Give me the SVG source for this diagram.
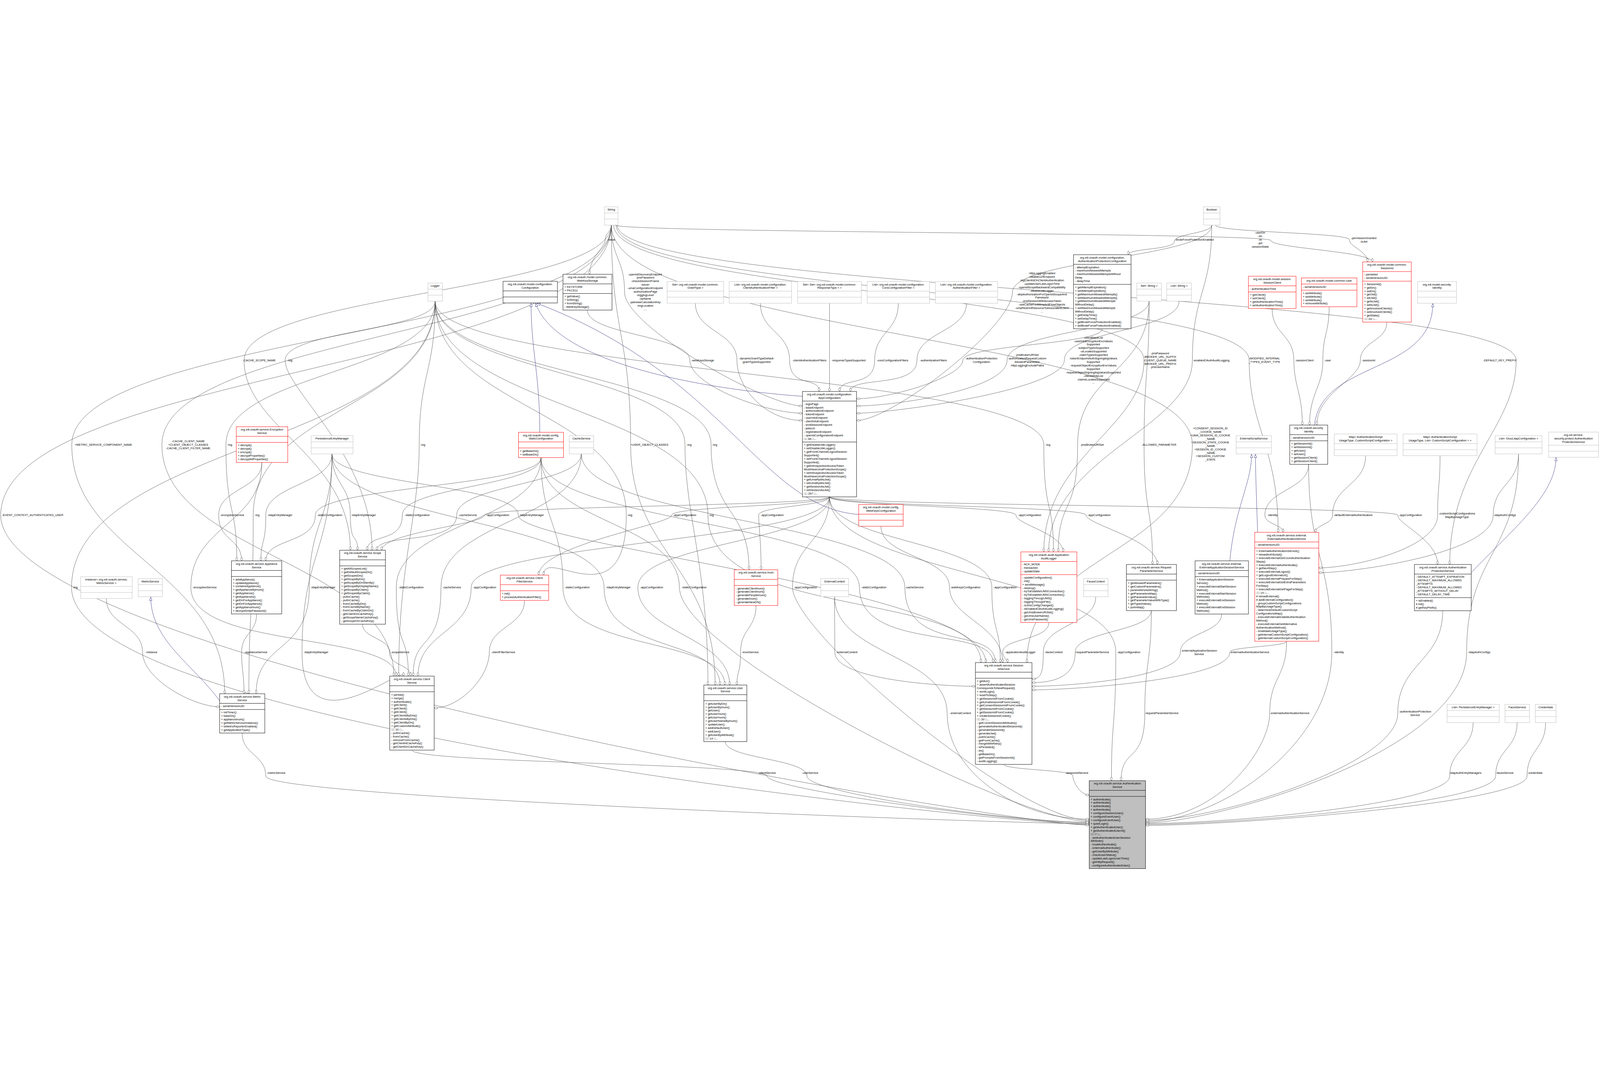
<svg xmlns="http://www.w3.org/2000/svg" width="6622" height="2757" viewBox="0 0 6622 2757" style="max-width:100vw;max-height:100vh">
<style>
.nd rect{fill:#fff;stroke-width:1.5}
.nd path{fill:none;stroke-width:1.5}
.k rect,.k path{stroke:#000}
.g rect,.g path{stroke:#bfbfbf}
.r rect,.r path{stroke:#ff0000}
#n-authsvc rect{fill:#bfbfbf}
text{font-family:"Liberation Sans",Arial,sans-serif;font-size:12px;fill:#000}
.c{text-anchor:middle}
.e{fill:none;stroke:#404040;stroke-width:1.2;marker-end:url(#dia)}
.i{fill:none;stroke:#191970;stroke-width:1.2;marker-end:url(#tri)}
</style>
<defs>
<marker id="dia" viewBox="0 0 16 10" refX="16" refY="5" markerWidth="16" markerHeight="10" markerUnits="userSpaceOnUse" orient="auto"><path d="M0,5 L8,0.5 L16,5 L8,9.5 Z" fill="#fff" stroke="#404040" stroke-width="1.2"/></marker>
<marker id="tri" viewBox="0 0 16 12" refX="15" refY="6" markerWidth="16" markerHeight="12" markerUnits="userSpaceOnUse" orient="auto"><path d="M1,1 L15,6 L1,11 Z" fill="#fff" stroke="#191970" stroke-width="1.2"/></marker>
</defs>
<rect width="6622" height="2757" fill="#fff"/>
<g id="connectors">
<path class="e" d="M2530 81 C2530 112 2505 112 2505 142 S2440 214 2440 285"/>
<path class="e" d="M2530 81 C2530 220 2585 220 2585 360 S3171 830 3321 830"/>
<path class="e" d="M2431 433 C2431 537 2855 537 2855 641 S3171 860 3321 860"/>
<path class="e" d="M2878 405 C2878 523 3050 523 3050 641 S3171 890 3321 890"/>
<path class="e" d="M3147 405 C3147 523 3268 523 3268 641 S3390 705 3390 770"/>
<path class="e" d="M3433 405 L3433 770"/>
<path class="e" d="M3718 405 C3718 523 3620 523 3620 641 S3475 705 3475 770"/>
<path class="e" d="M4000 405 C4000 523 3795 523 3795 641 S3520 705 3520 770"/>
<path class="e" d="M4562 511 C4562 576 3985 576 3985 641 S3695 800 3545 800"/>
<path class="e" d="M4756 396 C4756 518 4168 518 4168 641 S3695 830 3545 830"/>
<path class="e" d="M4880 396 C4880 518 4405 518 4405 640 S3695 860 3545 860"/>
<path class="e" d="M5015 81 C5015 220 4190 220 4190 360 S3695 890 3545 890"/>
<path class="e" d="M5015 81 C5015 116 4860 116 4860 150 S4670 177 4670 204"/>
<path class="e" d="M5030 81 C5030 112 5585 112 5585 142 S5660 188 5660 234"/>
<path class="e" d="M2545 81 C2545 113 5260 113 5260 145 S5680 190 5680 234"/>
<path class="e" d="M2540 81 C2540 360 4735 360 4735 640 S4320 1037 4320 1434"/>
<path class="e" d="M5015 81 C5015 361 4935 361 4935 641 S4340 1037 4340 1434"/>
<path class="e" d="M2550 81 C2550 361 5170 361 5170 641 S5290 997 5290 1353"/>
<path class="e" d="M5265 427 C5265 534 5355 534 5355 641 S5390 775 5390 909"/>
<path class="e" d="M5501 419 C5501 530 5475 530 5475 641 S5420 775 5420 909"/>
<path class="e" d="M5740 483 C5740 562 5630 562 5630 641 S5450 775 5450 909"/>
<path class="e" d="M2555 81 C2555 361 6275 361 6275 641 S6000 1063 6000 1486"/>
<path class="e" d="M1801 396 C1801 518 1180 518 1180 641 S1540 1034 1540 1427"/>
<path class="e" d="M1801 396 C1801 693 935 693 935 990 S980 1230 980 1471"/>
<path class="e" d="M1801 396 C1801 693 1735 693 1735 990 S1650 1469 1650 1948"/>
<path class="e" d="M1801 396 C1801 839 1048 839 1048 1282 S1030 1651 1030 2021"/>
<path class="e" d="M1801 396 C1801 988 296 988 296 1581 S4208 2562 4508 2562"/>
<path class="e" d="M1801 396 C1801 693 2835 693 2835 990 S2930 1487 2930 1985"/>
<path class="e" d="M1801 396 C1801 693 2943 693 2943 990 S3100 1249 3100 1508"/>
<path class="e" d="M1801 396 C1801 839 2592 839 2592 1282 S2250 1406 2250 1530"/>
<path class="e" d="M1801 396 C1801 839 2930 839 2930 1282 S4060 1587 4060 1892"/>
<path class="e" d="M1801 396 C1801 693 4320 693 4320 990 S4360 1212 4360 1434"/>
<path class="e" d="M2530 81 C2530 681 3 681 3 1282 S4208 2565 4508 2565"/>
<path class="e" d="M2530 81 C2530 535 297 535 297 990 S930 1505 930 2021"/>
<path class="e" d="M2530 81 C2530 535 670 535 670 990 S1630 1469 1630 1948"/>
<path class="e" d="M2530 81 C2530 361 1010 361 1010 641 S1450 1034 1450 1427"/>
<path class="e" d="M2530 81 C2530 535 2610 535 2610 990 S2960 1487 2960 1985"/>
<path class="e" d="M2530 81 C2530 535 4935 535 4935 990 S4250 1441 4250 1892"/>
<path class="e" d="M4756 396 C4756 693 4735 693 4735 990 S4770 1238 4770 1486"/>
<path class="e" d="M4756 396 C4756 693 4460 693 4460 990 S4380 1212 4380 1434"/>
<path class="e" d="M1374 1028 C1374 1155 1100 1155 1100 1282 S1080 1376 1080 1471"/>
<path class="e" d="M1374 1028 C1374 1155 1450 1155 1450 1282 S1480 1354 1480 1427"/>
<path class="e" d="M1374 1028 C1374 1304 1280 1304 1280 1581 S1060 1801 1060 2021"/>
<path class="e" d="M1374 1028 C1374 1438 1250 1438 1250 1849 S1670 1898 1670 1948"/>
<path class="e" d="M1374 1028 C1374 1155 2145 1155 2145 1282 S4080 1587 4080 1892"/>
<path class="e" d="M1374 1028 C1374 1304 2500 1304 2500 1581 S2980 1783 2980 1985"/>
<path class="e" d="M2239 1044 C2239 1163 1305 1163 1305 1282 S1100 1376 1100 1471"/>
<path class="e" d="M2239 1044 C2239 1163 1665 1163 1665 1282 S1520 1354 1520 1427"/>
<path class="e" d="M2239 1044 C2239 1312 1640 1312 1640 1581 S1690 1764 1690 1948"/>
<path class="e" d="M2239 1044 C2239 1312 2330 1312 2330 1581 S3000 1783 3000 1985"/>
<path class="e" d="M2239 1044 C2239 1312 2812 1312 2812 1581 S4208 2550 4508 2550"/>
<path class="e" d="M2239 1044 C2239 1312 3557 1312 3557 1581 S4110 1736 4110 1892"/>
<path class="e" d="M2406 1028 C2406 1155 1890 1155 1890 1282 S1560 1354 1560 1427"/>
<path class="e" d="M2406 1028 C2406 1304 1825 1304 1825 1581 S1710 1764 1710 1948"/>
<path class="e" d="M2406 1028 C2406 1304 3745 1304 3745 1581 S4120 1736 4120 1892"/>
<path class="e" d="M3433 1206 C3433 1244 2005 1244 2005 1282 S1580 1354 1580 1427"/>
<path class="e" d="M3433 1206 C3433 1393 1950 1393 1950 1581 S1730 1764 1730 1948"/>
<path class="e" d="M3433 1206 C3433 1244 2780 1244 2780 1282 S2230 1406 2230 1530"/>
<path class="e" d="M3433 1206 C3433 1244 3140 1244 3140 1282 S3150 1395 3150 1508"/>
<path class="e" d="M3433 1206 C3433 1393 2640 1393 2640 1581 S3020 1783 3020 1985"/>
<path class="e" d="M3433 1206 C3433 1393 3280 1393 3280 1581 S4208 2545 4508 2545"/>
<path class="e" d="M3433 1206 C3433 1393 4105 1393 4105 1581 S4140 1736 4140 1892"/>
<path class="e" d="M3433 1206 C3433 1244 4205 1244 4205 1282 S4400 1358 4400 1434"/>
<path class="e" d="M3433 1206 C3433 1244 4495 1244 4495 1282 S4790 1384 4790 1486"/>
<path class="e" d="M3433 1206 C3433 1244 5785 1244 5785 1282 S5950 1384 5950 1486"/>
<path class="e" d="M3433 1206 C3433 1527 4618 1527 4618 1849 S4600 2115 4600 2381"/>
<path class="e" d="M3646 1328 C3646 1454 3930 1454 3930 1581 S4150 1736 4150 1892"/>
<path class="e" d="M3454 1619 C3454 1734 3455 1734 3455 1849 S3900 1990 4037 1990"/>
<path class="e" d="M3454 1619 C3454 1860 3920 1860 3920 2102 S4208 2540 4508 2540"/>
<path class="e" d="M3129 1656 C3129 1752 3065 1752 3065 1849 S3050 1917 3050 1985"/>
<path class="e" d="M1084 1064 C1084 1173 905 1173 905 1282 S1000 1376 1000 1471"/>
<path class="e" d="M1084 1064 C1084 1322 790 1322 790 1581 S1640 1764 1640 1948"/>
<path class="e" d="M1062 1691 C1062 1770 1000 1770 1000 1849 S1010 1935 1010 2021"/>
<path class="e" d="M440 1627 C440 1738 590 1738 590 1849 S800 2075 909 2075"/>
<path class="e" d="M1500 1733 C1500 1791 1612 1791 1612 1849 S1700 1898 1700 1948"/>
<path class="e" d="M2171 1635 C2171 1742 2025 1742 2025 1849 S1900 2080 1797 2080"/>
<path class="e" d="M1002 2184 C1002 2273 1100 2273 1100 2362 S4208 2559 4508 2559"/>
<path class="e" d="M1705 2254 C1705 2308 3175 2308 3175 2362 S4208 2556 4508 2556"/>
<path class="e" d="M3002 2219 C3002 2290 3340 2290 3340 2362 S4208 2553 4508 2553"/>
<path class="e" d="M4154 2313 C4154 2336 4440 2336 4440 2360 S4470 2440 4508 2440"/>
<path class="e" d="M4341 1726 C4341 1800 4150 1790 4150 1849 C4150 1870 4170 1880 4170 1892"/>
<path class="e" d="M4535 1620 C4535 1735 4318 1735 4318 1849 C4318 1930 4310 1960 4271 1960"/>
<path class="e" d="M4765 1677 C4765 1763 4450 1763 4450 1849 C4450 1940 4380 1975 4271 1975"/>
<path class="e" d="M4765 1677 C4765 1890 4738 1890 4738 2102 S4640 2240 4640 2381"/>
<path class="e" d="M5056 1691 C5056 1770 4885 1770 4885 1850 C4885 1950 4450 1990 4271 1990"/>
<path class="e" d="M5325 1804 C5325 1826 5090 1826 5090 1849 C5090 1960 4450 2005 4271 2005"/>
<path class="e" d="M5325 1804 C5325 1953 5255 1953 5255 2102 S5040 2540 4741 2540"/>
<path class="e" d="M5416 1072 C5416 1177 5235 1177 5235 1282 C5235 1320 5310 1320 5310 1353"/>
<path class="e" d="M5416 1072 C5416 1460 5512 1460 5512 1849 S5040 2550 4741 2550"/>
<path class="e" d="M5652 1036 C5652 1159 5515 1159 5515 1282 C5515 1320 5445 1320 5445 1353"/>
<path class="e" d="M5960 1036 C5960 1159 5950 1159 5950 1282 C5950 1420 5600 1500 5458 1500"/>
<path class="e" d="M6285 1029 C6285 1155 6180 1155 6180 1282 C6180 1440 5600 1520 5458 1520"/>
<path class="e" d="M6285 1029 C6285 1440 6070 1440 6070 1849 S5040 2555 4741 2555"/>
<path class="e" d="M5971 1677 C5971 1890 5785 1890 5785 2102 S5040 2545 4741 2545"/>
<path class="e" d="M6097 2140 C6097 2251 6000 2251 6000 2362 S5100 2558 4741 2558"/>
<path class="e" d="M6279 2140 C6279 2251 6190 2251 6190 2362 S5100 2562 4741 2562"/>
<path class="e" d="M6397 2140 C6397 2251 6320 2251 6320 2362 S5100 2566 4741 2566"/>
<path class="i" d="M2234 939 C2234 700 2198 600 2198 405"/>
<path class="i" d="M3321 790 C2900 760 2300 650 2217 405"/>
<path class="i" d="M3554 1279 C3150 1250 3000 700 2222 405"/>
<path class="i" d="M909 2050 C800 1900 624 1800 624 1621"/>
<path class="i" d="M5090 1471 C5110 1250 5180 1150 5180 1030"/>
<path class="i" d="M5205 1353 C5200 1200 5196 1100 5196 1030"/>
<path class="i" d="M6089 1520 C6250 1350 6440 1200 6440 1043"/>
<path class="i" d="M5440 909 C5470 640 5930 700 5930 406"/>
<g id="edge-labels">
<text class="c" x="2530" y="146">-value</text>
<text class="c" x="2670" y="289"><tspan x="2670" dy="0">-openIdDiscoveryEndpoint</tspan><tspan x="2670" dy="14.4">-jmsPassword</tspan><tspan x="2670" dy="14.4">-checkSessionIFrame</tspan><tspan x="2670" dy="14.4">-issuer</tspan><tspan x="2670" dy="14.4">-umaConfigurationEndpoint</tspan><tspan x="2670" dy="14.4">-authorizationPage</tspan><tspan x="2670" dy="14.4">-loggingLevel</tspan><tspan x="2670" dy="14.4">-opName</tspan><tspan x="2670" dy="14.4">-pairwiseCalculationKey</tspan><tspan x="2670" dy="14.4">-imgLocation</tspan><tspan x="2670" dy="14.4">...</tspan></text>
<text class="c" x="2908" y="645">-webKeysStorage</text>
<text class="c" x="3130" y="638"><tspan x="3130" dy="0">-dynamicGrantTypeDefault</tspan><tspan x="3130" dy="14.4">-grantTypesSupported</tspan></text>
<text class="c" x="3350" y="645">-clientAuthenticationFilters</text>
<text class="c" x="3512" y="645">-responseTypesSupported</text>
<text class="c" x="3694" y="645">-corsConfigurationFilters</text>
<text class="c" x="3863" y="645">-authenticationFilters</text>
<text class="c" x="4062" y="638"><tspan x="4062" dy="0">-authenticationProtection</tspan><tspan x="4062" dy="14.4">Configuration</tspan></text>
<text class="c" x="4251" y="623"><tspan x="4251" dy="0">-jmsBrokerURISet</tspan><tspan x="4251" dy="14.4">-authorizationRequestCustom</tspan><tspan x="4251" dy="14.4">AllowedParameters</tspan><tspan x="4251" dy="14.4">-httpLoggingExcludePaths</tspan></text>
<text class="c" x="4312" y="285"><tspan x="4312" dy="0">-httpLoggingEnabled</tspan><tspan x="4312" dy="14.4">-disableU2fEndpoint</tspan><tspan x="4312" dy="14.4">-logClientIdOnClientAuthentication</tspan><tspan x="4312" dy="14.4">-updateUserLastLogonTime</tspan><tspan x="4312" dy="14.4">-openidScopeBackwardCompatibility</tspan><tspan x="4312" dy="14.4">-disableJdkLogger</tspan><tspan x="4312" dy="14.4">-skipAuthorizationForOpenIdScopeAnd</tspan><tspan x="4312" dy="14.4">PairwiseId</tspan><tspan x="4312" dy="14.4">-endSessionWithAccessToken</tspan><tspan x="4312" dy="14.4">-useCacheForAllImplicitFlowObjects</tspan><tspan x="4312" dy="14.4">-umaRestrictResourceToAssociatedClient</tspan><tspan x="4312" dy="14.4">...</tspan></text>
<text class="c" x="4525" y="551"><tspan x="4525" dy="0">-clientBlackList</tspan><tspan x="4525" dy="14.4">-userInfoEncryptionEncValues</tspan><tspan x="4525" dy="14.4">Supported</tspan><tspan x="4525" dy="14.4">-subjectTypesSupported</tspan><tspan x="4525" dy="14.4">-uiLocalesSupported</tspan><tspan x="4525" dy="14.4">-claimTypesSupported</tspan><tspan x="4525" dy="14.4">-tokenEndpointAuthSigningAlgValues</tspan><tspan x="4525" dy="14.4">Supported</tspan><tspan x="4525" dy="14.4">-requestObjectEncryptionEncValues</tspan><tspan x="4525" dy="14.4">Supported</tspan><tspan x="4525" dy="14.4">-requestObjectSigningAlgValuesSupported</tspan><tspan x="4525" dy="14.4">-clientWhiteList</tspan><tspan x="4525" dy="14.4">-claimsLocalesSupported</tspan><tspan x="4525" dy="14.4">...</tspan></text>
<text class="c" x="4943" y="146">-bruteForceProtectionEnabled</text>
<text class="c" x="5215" y="117"><tspan x="5215" dy="0">-userDn</tspan><tspan x="5215" dy="14.4">-dn</tspan><tspan x="5215" dy="14.4">-id</tspan><tspan x="5215" dy="14.4">-jwt</tspan><tspan x="5215" dy="14.4">-sessionState</tspan></text>
<text class="c" x="5644" y="139"><tspan x="5644" dy="0">-permissionGranted</tspan><tspan x="5644" dy="14.4">-isJwt</tspan></text>
<text class="c" x="4801" y="616"><tspan x="4801" dy="0">-jmsPassword</tspan><tspan x="4801" dy="14.4">-BROKER_URL_SUFFIX</tspan><tspan x="4801" dy="14.4">-CLIENT_QUEUE_NAME</tspan><tspan x="4801" dy="14.4">-BROKER_URL_PREFIX</tspan><tspan x="4801" dy="14.4">-jmsUserName</tspan></text>
<text class="c" x="5013" y="645">-enabledOAuthAuditLogging</text>
<text class="c" x="5233" y="638"><tspan x="5233" dy="0">-MODIFIED_INTERNAL</tspan><tspan x="5233" dy="14.4">_TYPES_EVENT_TYPE</tspan></text>
<text class="c" x="5399" y="645">-sessionClient</text>
<text class="c" x="5495" y="645">-user</text>
<text class="c" x="5664" y="645">-sessionId</text>
<text class="c" x="6207" y="645">-DEFAULT_KEY_PREFIX</text>
<text class="c" x="1073" y="645">-CACHE_SCOPE_NAME</text>
<text class="c" x="1200" y="645">-log</text>
<text class="c" x="428" y="994">+METRIC_SERVICE_COMPONENT_NAME</text>
<text class="c" x="779" y="980"><tspan x="779" dy="0">-CACHE_CLIENT_NAME</tspan><tspan x="779" dy="14.4">+CLIENT_OBJECT_CLASSES</tspan><tspan x="779" dy="14.4">-CACHE_CLIENT_FILTER_NAME</tspan></text>
<text class="c" x="951" y="994">-log</text>
<text class="c" x="1750" y="994">-log</text>
<text class="c" x="2688" y="994">+USER_OBJECT_CLASSES</text>
<text class="c" x="2852" y="994">-log</text>
<text class="c" x="2958" y="994">-log</text>
<text class="c" x="4337" y="994">-log</text>
<text class="c" x="4520" y="994">-jmsBrokerURISet</text>
<text class="c" x="4797" y="994">-ALLOWED_PARAMETER</text>
<text class="c" x="5009" y="927"><tspan x="5009" dy="0">+CONSENT_SESSION_ID</tspan><tspan x="5009" dy="14.4">_COOKIE_NAME</tspan><tspan x="5009" dy="14.4">+UMA_SESSION_ID_COOKIE</tspan><tspan x="5009" dy="14.4">_NAME</tspan><tspan x="5009" dy="14.4">+SESSION_STATE_COOKIE</tspan><tspan x="5009" dy="14.4">_NAME</tspan><tspan x="5009" dy="14.4">+SESSION_ID_COOKIE</tspan><tspan x="5009" dy="14.4">_NAME</tspan><tspan x="5009" dy="14.4">+SESSION_CUSTOM</tspan><tspan x="5009" dy="14.4">_STATE</tspan></text>
<text x="8" y="1286">-EVENT_CONTEXT_AUTHENTICATED_USER</text>
<text class="c" x="961" y="1286">-encryptionService</text>
<text class="c" x="1064" y="1286">-log</text>
<text class="c" x="1159" y="1286">-ldapEntryManager</text>
<text class="c" x="1365" y="1286">-staticConfiguration</text>
<text class="c" x="1505" y="1286">-ldapEntryManager</text>
<text class="c" x="1727" y="1286">-staticConfiguration</text>
<text class="c" x="1936" y="1286">-cacheService</text>
<text class="c" x="2060" y="1286">-appConfiguration</text>
<text class="c" x="2200" y="1286">-ldapEntryManager</text>
<text class="c" x="2607" y="1286">-log</text>
<text class="c" x="2834" y="1286">-appConfiguration</text>
<text class="c" x="2944" y="1286">-log</text>
<text class="c" x="3196" y="1286">-appConfiguration</text>
<text class="c" x="4262" y="1286">-appConfiguration</text>
<text class="c" x="4549" y="1286">-appConfiguration</text>
<text class="c" x="5267" y="1286">-identity</text>
<text class="c" x="5600" y="1286">-defaultExternalAuthenticators</text>
<text class="c" x="5838" y="1286">-appConfiguration</text>
<text class="c" x="6030" y="1279"><tspan x="6030" dy="0">-customScriptConfigurations</tspan><tspan x="6030" dy="14.4">MapByUsageType</tspan></text>
<text class="c" x="6228" y="1286">-ldapAuthConfigs</text>
<text class="c" x="311" y="1585">-log</text>
<text class="c" x="847" y="1585">-encryptionService</text>
<text class="c" x="1337" y="1585">-ldapEntryManager</text>
<text class="c" x="1702" y="1585">-staticConfiguration</text>
<text class="c" x="1870" y="1585">-cacheService</text>
<text class="c" x="2006" y="1585">-appConfiguration</text>
<text class="c" x="2389" y="1585">-staticConfiguration</text>
<text class="c" x="2559" y="1585">-ldapEntryManager</text>
<text class="c" x="2697" y="1585">-appConfiguration</text>
<text class="c" x="2873" y="1585">-staticConfiguration</text>
<text class="c" x="3334" y="1585">-appConfiguration</text>
<text class="c" x="3617" y="1585">-staticConfiguration</text>
<text class="c" x="3785" y="1585">-cacheService</text>
<text class="c" x="3996" y="1585">-webKeysConfiguration</text>
<text class="c" x="4160" y="1585">-appConfiguration</text>
<text class="c" x="627" y="1853">-instance</text>
<text class="c" x="1059" y="1853">-applianceService</text>
<text class="c" x="1308" y="1853">-ldapEntryManager</text>
<text class="c" x="1656" y="1853">-scopeService</text>
<text class="c" x="2083" y="1853">-clientFilterService</text>
<text class="c" x="3105" y="1853">-inumService</text>
<text class="c" x="3505" y="1853">-externalContext</text>
<text class="c" x="4223" y="1853">-applicationAuditLogger</text>
<text class="c" x="4361" y="1853">-facesContext</text>
<text class="c" x="4520" y="1853">-requestParameterService</text>
<text class="c" x="4672" y="1853">-appConfiguration</text>
<text class="c" x="4963" y="1847"><tspan x="4963" dy="0">-externalApplicationSession</tspan><tspan x="4963" dy="14.4">Service</tspan></text>
<text class="c" x="5172" y="1853">-externalAuthenticationService</text>
<text class="c" x="5541" y="1853">-identity</text>
<text class="c" x="6122" y="1853">-ldapAuthConfigs</text>
<text class="c" x="3975" y="2106">-externalContext</text>
<text class="c" x="4808" y="2106">-requestParameterService</text>
<text class="c" x="5338" y="2106">-externalAuthenticationService</text>
<text class="c" x="5857" y="2099"><tspan x="5857" dy="0">-authenticationProtection</tspan><tspan x="5857" dy="14.4">Service</tspan></text>
<text class="c" x="1143" y="2352">-metricService</text>
<text class="c" x="3175" y="2352">-clientService</text>
<text class="c" x="3353" y="2352">-userService</text>
<text class="c" x="4457" y="2352">-sessionIdService</text>
<text class="c" x="6065" y="2352">-ldapAuthEntryManagers</text>
<text class="c" x="6228" y="2352">-facesService</text>
<text class="c" x="6353" y="2352">-credentials</text>
</g>
</g>
<g id="n-logger" class="nd g"><rect x="1771" y="321" width="60" height="75.4"/><path d="M1771 346.4H1831M1771 371.4H1831"/><text class="c" x="1801" y="337">Logger</text></g>
<g id="n-configuration" class="nd k"><rect x="2082" y="314" width="225" height="89.8"/><path d="M2082 353.8H2307M2082 378.8H2307"/><text class="c" x="2194.5" y="330"><tspan x="2194.5" dy="0">org.xdi.oxauth.model.configuration.</tspan><tspan x="2194.5" dy="14.4">Configuration</tspan></text></g>
<g id="n-string" class="nd g"><rect x="2502" y="6" width="56" height="75.4"/><path d="M2502 31.4H2558M2502 56.4H2558"/><text class="c" x="2530" y="22">String</text></g>
<g id="n-webkeystorage" class="nd k"><rect x="2330" y="285" width="203" height="148.2"/><path d="M2330 324.8H2533M2330 364.6H2533"/><text class="c" x="2431.5" y="301"><tspan x="2431.5" dy="0">org.xdi.oxauth.model.common.</tspan><tspan x="2431.5" dy="14.4">WebKeyStorage</tspan></text><text x="2336" y="340.8"><tspan x="2336" dy="0">+ KEYSTORE</tspan><tspan x="2336" dy="14.4">+ PKCS11</tspan></text><text x="2336" y="380.6"><tspan x="2336" dy="0">+ getValue()</tspan><tspan x="2336" dy="14.4">+ toString()</tspan><tspan x="2336" dy="14.4">+ fromString()</tspan><tspan x="2336" dy="14.4">- WebKeyStorage()</tspan></text></g>
<g id="n-set-granttype" class="nd g"><rect x="2761" y="315" width="234" height="89.8"/><path d="M2761 354.8H2995M2761 379.8H2995"/><text class="c" x="2878" y="331"><tspan x="2878" dy="0">Set&lt; org.xdi.oxauth.model.common.</tspan><tspan x="2878" dy="14.4">GrantType &gt;</tspan></text></g>
<g id="n-list-clientauthfilter" class="nd g"><rect x="3018" y="315" width="258" height="89.8"/><path d="M3018 354.8H3276M3018 379.8H3276"/><text class="c" x="3147" y="331"><tspan x="3147" dy="0">List&lt; org.xdi.oxauth.model.configuration.</tspan><tspan x="3147" dy="14.4">ClientAuthenticationFilter &gt;</tspan></text></g>
<g id="n-set-set-responsetype" class="nd g"><rect x="3301" y="315" width="264" height="89.8"/><path d="M3301 354.8H3565M3301 379.8H3565"/><text class="c" x="3433" y="331"><tspan x="3433" dy="0">Set&lt; Set&lt; org.xdi.oxauth.model.common.</tspan><tspan x="3433" dy="14.4">ResponseType &gt; &gt;</tspan></text></g>
<g id="n-list-corsfilter" class="nd g"><rect x="3589" y="315" width="258" height="89.8"/><path d="M3589 354.8H3847M3589 379.8H3847"/><text class="c" x="3718" y="331"><tspan x="3718" dy="0">List&lt; org.xdi.oxauth.model.configuration.</tspan><tspan x="3718" dy="14.4">CorsConfigurationFilter &gt;</tspan></text></g>
<g id="n-list-authfilter" class="nd g"><rect x="3871" y="315" width="258" height="89.8"/><path d="M3871 354.8H4129M3871 379.8H4129"/><text class="c" x="4000" y="331"><tspan x="4000" dy="0">List&lt; org.xdi.oxauth.model.configuration.</tspan><tspan x="4000" dy="14.4">AuthenticationFilter &gt;</tspan></text></g>
<g id="n-appconfiguration" class="nd k"><rect x="3321" y="770" width="224" height="436.2"/><path d="M3321 809.8H3545M3321 979.2H3545"/><text class="c" x="3433" y="786"><tspan x="3433" dy="0">org.xdi.oxauth.model.configuration.</tspan><tspan x="3433" dy="14.4">AppConfiguration</tspan></text><text x="3327" y="825.8"><tspan x="3327" dy="0">- loginPage</tspan><tspan x="3327" dy="14.4">- baseEndpoint</tspan><tspan x="3327" dy="14.4">- authorizationEndpoint</tspan><tspan x="3327" dy="14.4">- tokenEndpoint</tspan><tspan x="3327" dy="14.4">- userInfoEndpoint</tspan><tspan x="3327" dy="14.4">- clientInfoEndpoint</tspan><tspan x="3327" dy="14.4">- endSessionEndpoint</tspan><tspan x="3327" dy="14.4">- jwksUri</tspan><tspan x="3327" dy="14.4">- registrationEndpoint</tspan><tspan x="3327" dy="14.4">- openIdConfigurationEndpoint</tspan><tspan x="3327" dy="14.4">□□ 84 □...</tspan></text><text x="3327" y="995.2"><tspan x="3327" dy="0">+ getDisableJdkLogger()</tspan><tspan x="3327" dy="14.4">+ setDisableJdkLogger()</tspan><tspan x="3327" dy="14.4">+ getFrontChannelLogoutSession</tspan><tspan x="3327" dy="14.4">Supported()</tspan><tspan x="3327" dy="14.4">+ setFrontChannelLogoutSession</tspan><tspan x="3327" dy="14.4">Supported()</tspan><tspan x="3327" dy="14.4">+ getIntrospectionAccessToken</tspan><tspan x="3327" dy="14.4">MustHaveUmaProtectionScope()</tspan><tspan x="3327" dy="14.4">+ setIntrospectionAccessToken</tspan><tspan x="3327" dy="14.4">MustHaveUmaProtectionScope()</tspan><tspan x="3327" dy="14.4">+ getUmaRptAsJwt()</tspan><tspan x="3327" dy="14.4">+ setUmaRptAsJwt()</tspan><tspan x="3327" dy="14.4">+ getSessionAsJwt()</tspan><tspan x="3327" dy="14.4">+ setSessionAsJwt()</tspan><tspan x="3327" dy="14.4">□□ 257 □...</tspan></text></g>
<g id="n-boolean" class="nd g"><rect x="4981" y="6" width="68" height="75.4"/><path d="M4981 31.4H5049M4981 56.4H5049"/><text class="c" x="5015" y="22">Boolean</text></g>
<g id="n-authprotconfig" class="nd k"><rect x="4443" y="204" width="238" height="306.6"/><path d="M4443 243.8H4681M4443 326.8H4681"/><text class="c" x="4562" y="220"><tspan x="4562" dy="0">org.xdi.oxauth.model.configuration.</tspan><tspan x="4562" dy="14.4">AuthenticationProtectionConfiguration</tspan></text><text x="4449" y="259.8"><tspan x="4449" dy="0">- attemptExpiration</tspan><tspan x="4449" dy="14.4">- maximumAllowedAttempts</tspan><tspan x="4449" dy="14.4">- maximumAllowedAttemptsWithout</tspan><tspan x="4449" dy="14.4">Delay</tspan><tspan x="4449" dy="14.4">- delayTime</tspan></text><text x="4449" y="342.8"><tspan x="4449" dy="0">+ getAttemptExpiration()</tspan><tspan x="4449" dy="14.4">+ setAttemptExpiration()</tspan><tspan x="4449" dy="14.4">+ getMaximumAllowedAttempts()</tspan><tspan x="4449" dy="14.4">+ setMaximumAllowedAttempts()</tspan><tspan x="4449" dy="14.4">+ getMaximumAllowedAttempts</tspan><tspan x="4449" dy="14.4">WithoutDelay()</tspan><tspan x="4449" dy="14.4">+ setMaximumAllowedAttempts</tspan><tspan x="4449" dy="14.4">WithoutDelay()</tspan><tspan x="4449" dy="14.4">+ getDelayTime()</tspan><tspan x="4449" dy="14.4">+ setDelayTime()</tspan><tspan x="4449" dy="14.4">+ getBruteForceProtectionEnabled()</tspan><tspan x="4449" dy="14.4">+ setBruteForceProtectionEnabled()</tspan></text></g>
<g id="n-set-string" class="nd g"><rect x="4705" y="321" width="102" height="75.4"/><path d="M4705 346.4H4807M4705 371.4H4807"/><text class="c" x="4756" y="337">Set&lt; String &gt;</text></g>
<g id="n-list-string" class="nd g"><rect x="4829" y="321" width="102" height="75.4"/><path d="M4829 346.4H4931M4829 371.4H4931"/><text class="c" x="4880" y="337">List&lt; String &gt;</text></g>
<g id="n-sessionclient" class="nd r"><rect x="5167" y="293" width="197" height="133.8"/><path d="M5167 332.8H5364M5167 358.2H5364"/><text class="c" x="5265.5" y="309"><tspan x="5265.5" dy="0">org.xdi.oxauth.model.session.</tspan><tspan x="5265.5" dy="14.4">SessionClient</tspan></text><text x="5173" y="348.8">- authenticationTime</text><text x="5173" y="374.2"><tspan x="5173" dy="0">+ getClient()</tspan><tspan x="5173" dy="14.4">+ setClient()</tspan><tspan x="5173" dy="14.4">+ getAuthenticationTime()</tspan><tspan x="5173" dy="14.4">+ setAuthenticationTime()</tspan></text></g>
<g id="n-user" class="nd r"><rect x="5386" y="300" width="230" height="119.4"/><path d="M5386 325.4H5616M5386 350.8H5616"/><text class="c" x="5501" y="316">org.xdi.oxauth.model.common.User</text><text x="5392" y="341.4">- serialVersionUID</text><text x="5392" y="366.8"><tspan x="5392" dy="0">+ setAttribute()</tspan><tspan x="5392" dy="14.4">+ setAttribute()</tspan><tspan x="5392" dy="14.4">+ setAttribute()</tspan><tspan x="5392" dy="14.4">+ removeAttribute()</tspan></text></g>
<g id="n-sessionid" class="nd r"><rect x="5640" y="234" width="201" height="249"/><path d="M5640 273.8H5841M5640 313.6H5841"/><text class="c" x="5740.5" y="250"><tspan x="5740.5" dy="0">org.xdi.oxauth.model.common.</tspan><tspan x="5740.5" dy="14.4">SessionId</tspan></text><text x="5646" y="289.8"><tspan x="5646" dy="0">- persisted</tspan><tspan x="5646" dy="14.4">- serialVersionUID</tspan></text><text x="5646" y="329.6"><tspan x="5646" dy="0">+ SessionId()</tspan><tspan x="5646" dy="14.4">+ getDn()</tspan><tspan x="5646" dy="14.4">+ setDn()</tspan><tspan x="5646" dy="14.4">+ getJwt()</tspan><tspan x="5646" dy="14.4">+ setJwt()</tspan><tspan x="5646" dy="14.4">+ getIsJwt()</tspan><tspan x="5646" dy="14.4">+ setIsJwt()</tspan><tspan x="5646" dy="14.4">+ getInvolvedClients()</tspan><tspan x="5646" dy="14.4">+ setInvolvedClients()</tspan><tspan x="5646" dy="14.4">+ getState()</tspan><tspan x="5646" dy="14.4">□□ 24 □...</tspan></text></g>
<g id="n-model-security-identity" class="nd g"><rect x="5867" y="315" width="161" height="89.8"/><path d="M5867 354.8H6028M5867 379.8H6028"/><text class="c" x="5947.5" y="331"><tspan x="5947.5" dy="0">org.xdi.model.security.</tspan><tspan x="5947.5" dy="14.4">Identity</tspan></text></g>
<g id="n-encryptionservice" class="nd r"><rect x="978" y="916" width="213" height="147.8"/><path d="M978 955.8H1191M978 980.8H1191"/><text class="c" x="1084.5" y="932"><tspan x="1084.5" dy="0">org.xdi.oxauth.service.Encryption</tspan><tspan x="1084.5" dy="14.4">Service</tspan></text><text x="984" y="996.8"><tspan x="984" dy="0">+ decrypt()</tspan><tspan x="984" dy="14.4">+ decrypt()</tspan><tspan x="984" dy="14.4">+ encrypt()</tspan><tspan x="984" dy="14.4">+ decryptProperties()</tspan><tspan x="984" dy="14.4">+ decryptAllProperties()</tspan></text></g>
<g id="n-persistenceentrymanager" class="nd g"><rect x="1288" y="953" width="173" height="75.4"/><path d="M1288 978.4H1461M1288 1003.4H1461"/><text class="c" x="1374.5" y="969">PersistenceEntryManager</text></g>
<g id="n-staticconfiguration" class="nd r"><rect x="2146" y="939" width="186" height="104.6"/><path d="M2146 978.8H2332M2146 1003.8H2332"/><text class="c" x="2239" y="955"><tspan x="2239" dy="0">org.xdi.oxauth.model.config.</tspan><tspan x="2239" dy="14.4">StaticConfiguration</tspan></text><text x="2152" y="1019.8"><tspan x="2152" dy="0">+ getBaseDn()</tspan><tspan x="2152" dy="14.4">+ setBaseDn()</tspan></text></g>
<g id="n-cacheservice" class="nd g"><rect x="2356" y="953" width="101" height="75.4"/><path d="M2356 978.4H2457M2356 1003.4H2457"/><text class="c" x="2406.5" y="969">CacheService</text></g>
<g id="n-applianceservice" class="nd k"><rect x="958" y="1471" width="208" height="219.8"/><path d="M958 1510.8H1166M958 1535.8H1166"/><text class="c" x="1062" y="1487"><tspan x="1062" dy="0">org.xdi.oxauth.service.Appliance</tspan><tspan x="1062" dy="14.4">Service</tspan></text><text x="964" y="1551.8"><tspan x="964" dy="0">+ addAppliance()</tspan><tspan x="964" dy="14.4">+ updateAppliance()</tspan><tspan x="964" dy="14.4">+ containsAppliance()</tspan><tspan x="964" dy="14.4">+ getApplianceByInum()</tspan><tspan x="964" dy="14.4">+ getAppliance()</tspan><tspan x="964" dy="14.4">+ getAppliances()</tspan><tspan x="964" dy="14.4">+ getDnForAppliance()</tspan><tspan x="964" dy="14.4">+ getDnForAppliance()</tspan><tspan x="964" dy="14.4">+ getApplianceInum()</tspan><tspan x="964" dy="14.4">+ decryptSmtpPassword()</tspan></text></g>
<g id="n-scopeservice" class="nd k"><rect x="1406" y="1427" width="189" height="306.2"/><path d="M1406 1466.8H1595M1406 1491.8H1595"/><text class="c" x="1500.5" y="1443"><tspan x="1500.5" dy="0">org.xdi.oxauth.service.Scope</tspan><tspan x="1500.5" dy="14.4">Service</tspan></text><text x="1412" y="1507.8"><tspan x="1412" dy="0">+ getAllScopesList()</tspan><tspan x="1412" dy="14.4">+ getDefaultScopesDn()</tspan><tspan x="1412" dy="14.4">+ getScopesDn()</tspan><tspan x="1412" dy="14.4">+ getScopeByDn()</tspan><tspan x="1412" dy="14.4">+ getScopeByDnSilently()</tspan><tspan x="1412" dy="14.4">+ getScopeByDisplayName()</tspan><tspan x="1412" dy="14.4">+ getScopeByClaim()</tspan><tspan x="1412" dy="14.4">+ getScopesByClaim()</tspan><tspan x="1412" dy="14.4">- putInCache()</tspan><tspan x="1412" dy="14.4">- putInCache()</tspan><tspan x="1412" dy="14.4">- fromCacheByDn()</tspan><tspan x="1412" dy="14.4">- fromCacheByName()</tspan><tspan x="1412" dy="14.4">- fromCacheByClaimDn()</tspan><tspan x="1412" dy="14.4">- getClaimDnCacheKey()</tspan><tspan x="1412" dy="14.4">- getScopeNameCacheKey()</tspan><tspan x="1412" dy="14.4">- getScopeDnCacheKey()</tspan></text></g>
<g id="n-instance-metricservice" class="nd g"><rect x="334" y="1537" width="213" height="89.8"/><path d="M334 1576.8H547M334 1601.8H547"/><text class="c" x="440.5" y="1553"><tspan x="440.5" dy="0">Instance&lt; org.xdi.oxauth.service.</tspan><tspan x="440.5" dy="14.4">MetricService &gt;</tspan></text></g>
<g id="n-metricservice-base" class="nd g"><rect x="572" y="1544" width="100" height="75.4"/><path d="M572 1569.4H672M572 1594.4H672"/><text class="c" x="622" y="1560">MetricService</text></g>
<g id="n-clientfilterservice" class="nd r"><rect x="2071" y="1530" width="200" height="104.6"/><path d="M2071 1569.8H2271M2071 1594.8H2271"/><text class="c" x="2171" y="1546"><tspan x="2171" dy="0">org.xdi.oxauth.service.Client</tspan><tspan x="2171" dy="14.4">FilterService</tspan></text><text x="2077" y="1610.8"><tspan x="2077" dy="0">+ init()</tspan><tspan x="2077" dy="14.4">+ processAuthenticationFilter()</tspan></text></g>
<g id="n-webkeysconfiguration" class="nd r"><rect x="3554" y="1238" width="184" height="89.8"/><path d="M3554 1277.8H3738M3554 1302.8H3738"/><text class="c" x="3646" y="1254"><tspan x="3646" dy="0">org.xdi.oxauth.model.config.</tspan><tspan x="3646" dy="14.4">WebKeysConfiguration</tspan></text></g>
<g id="n-inumservice" class="nd r"><rect x="3039" y="1508" width="180" height="147.8"/><path d="M3039 1547.8H3219M3039 1572.8H3219"/><text class="c" x="3129" y="1524"><tspan x="3129" dy="0">org.xdi.oxauth.service.Inum</tspan><tspan x="3129" dy="14.4">Service</tspan></text><text x="3045" y="1588.8"><tspan x="3045" dy="0">- generateClientInum()</tspan><tspan x="3045" dy="14.4">- generateClientInum()</tspan><tspan x="3045" dy="14.4">- generatePeopleInum()</tspan><tspan x="3045" dy="14.4">- generateInum()</tspan><tspan x="3045" dy="14.4">- generateNewDN()</tspan></text></g>
<g id="n-externalcontext" class="nd g"><rect x="3397" y="1544" width="115" height="75.4"/><path d="M3397 1569.4H3512M3397 1594.4H3512"/><text class="c" x="3454.5" y="1560">ExternalContext</text></g>
<g id="n-applicationauditlogger" class="nd r"><rect x="4225" y="1434" width="232" height="292.2"/><path d="M4225 1473.8H4457M4225 1528H4457"/><text class="c" x="4341" y="1450"><tspan x="4341" dy="0">org.xdi.oxauth.audit.Application</tspan><tspan x="4341" dy="14.4">AuditLogger</tspan></text><text x="4231" y="1489.8"><tspan x="4231" dy="0">- ACK_MODE</tspan><tspan x="4231" dy="14.4">- transacted</tspan><tspan x="4231" dy="14.4">- updateState</tspan></text><text x="4231" y="1544"><tspan x="4231" dy="0">- updateConfiguration()</tspan><tspan x="4231" dy="14.4">- init()</tspan><tspan x="4231" dy="14.4">+ sendMessage()</tspan><tspan x="4231" dy="14.4">- destroy()</tspan><tspan x="4231" dy="14.4">- tryToEstablishJMSConnection()</tspan><tspan x="4231" dy="14.4">- tryToEstablishJMSConnection()</tspan><tspan x="4231" dy="14.4">- loggingThroughJMS()</tspan><tspan x="4231" dy="14.4">- loggingThroughFile()</tspan><tspan x="4231" dy="14.4">- isJmsConfigChanged()</tspan><tspan x="4231" dy="14.4">- isEnabledOAuthAuditLogging()</tspan><tspan x="4231" dy="14.4">- getJmsBrokerURISet()</tspan><tspan x="4231" dy="14.4">- getJmsUserName()</tspan><tspan x="4231" dy="14.4">- getJmsPassword()</tspan></text></g>
<g id="n-facescontext" class="nd g"><rect x="4485" y="1544" width="101" height="75.4"/><path d="M4485 1569.4H4586M4485 1594.4H4586"/><text class="c" x="4535.5" y="1560">FacesContext</text></g>
<g id="n-requestparameterservice" class="nd k"><rect x="4662" y="1486" width="207" height="191"/><path d="M4662 1525.8H4869M4662 1550.8H4869"/><text class="c" x="4765.5" y="1502"><tspan x="4765.5" dy="0">org.xdi.oxauth.service.Request</tspan><tspan x="4765.5" dy="14.4">ParameterService</tspan></text><text x="4668" y="1566.8"><tspan x="4668" dy="0">+ getAllowedParameters()</tspan><tspan x="4668" dy="14.4">+ getCustomParameters()</tspan><tspan x="4668" dy="14.4">+ parametersAsString()</tspan><tspan x="4668" dy="14.4">+ getParametersMap()</tspan><tspan x="4668" dy="14.4">+ getParameterValue()</tspan><tspan x="4668" dy="14.4">+ getParameterValueWithType()</tspan><tspan x="4668" dy="14.4">+ getTypedValue()</tspan><tspan x="4668" dy="14.4">+ putInMap()</tspan></text></g>
<g id="n-externalscriptservice" class="nd g"><rect x="5116" y="953" width="146" height="75.4"/><path d="M5116 978.4H5262M5116 1003.4H5262"/><text class="c" x="5189" y="969">ExternalScriptService</text></g>
<g id="n-oxauth-identity" class="nd k"><rect x="5338" y="909" width="157" height="162.6"/><path d="M5338 948.8H5495M5338 974.2H5495"/><text class="c" x="5416.5" y="925"><tspan x="5416.5" dy="0">org.xdi.oxauth.security.</tspan><tspan x="5416.5" dy="14.4">Identity</tspan></text><text x="5344" y="964.8">- serialVersionUID</text><text x="5344" y="990.2"><tspan x="5344" dy="0">+ getSessionId()</tspan><tspan x="5344" dy="14.4">+ setSessionId()</tspan><tspan x="5344" dy="14.4">+ getUser()</tspan><tspan x="5344" dy="14.4">+ setUser()</tspan><tspan x="5344" dy="14.4">+ getSessionClient()</tspan><tspan x="5344" dy="14.4">+ getSessionClient()</tspan></text></g>
<g id="n-map-customscript" class="nd g"><rect x="5522" y="946" width="260" height="89.8"/><path d="M5522 985.8H5782M5522 1010.8H5782"/><text class="c" x="5652" y="962"><tspan x="5652" dy="0">Map&lt; AuthenticationScript</tspan><tspan x="5652" dy="14.4">UsageType, CustomScriptConfiguration &gt;</tspan></text></g>
<g id="n-map-list-customscript" class="nd g"><rect x="5807" y="946" width="306" height="89.8"/><path d="M5807 985.8H6113M5807 1010.8H6113"/><text class="c" x="5960" y="962"><tspan x="5960" dy="0">Map&lt; AuthenticationScript</tspan><tspan x="5960" dy="14.4">UsageType, List&lt; CustomScriptConfiguration &gt; &gt;</tspan></text></g>
<g id="n-list-gluuldap" class="nd g"><rect x="6188" y="953" width="194" height="75.4"/><path d="M6188 978.4H6382M6188 1003.4H6382"/><text class="c" x="6285" y="969">List&lt; GluuLdapConfiguration &gt;</text></g>
<g id="n-xdi-authprotservice" class="nd g"><rect x="6409" y="938" width="207" height="104.2"/><path d="M6409 992.2H6616M6409 1017.2H6616"/><text class="c" x="6512.5" y="954"><tspan x="6512.5" dy="0">org.xdi.service.</tspan><tspan x="6512.5" dy="14.4">security.protect.Authentication</tspan><tspan x="6512.5" dy="14.4">ProtectionService</tspan></text></g>
<g id="n-extappsessionservice" class="nd k"><rect x="4946" y="1471" width="221" height="220.2"/><path d="M4946 1510.8H5167M4946 1536.2H5167"/><text class="c" x="5056.5" y="1487"><tspan x="5056.5" dy="0">org.xdi.oxauth.service.external.</tspan><tspan x="5056.5" dy="14.4">ExternalApplicationSessionService</tspan></text><text x="4952" y="1526.8">- serialVersionUID</text><text x="4952" y="1552.2"><tspan x="4952" dy="0">+ ExternalApplicationSession</tspan><tspan x="4952" dy="14.4">Service()</tspan><tspan x="4952" dy="14.4">+ executeExternalStartSession</tspan><tspan x="4952" dy="14.4">Method()</tspan><tspan x="4952" dy="14.4">+ executeExternalStartSession</tspan><tspan x="4952" dy="14.4">Methods()</tspan><tspan x="4952" dy="14.4">+ executeExternalEndSession</tspan><tspan x="4952" dy="14.4">Method()</tspan><tspan x="4952" dy="14.4">+ executeExternalEndSession</tspan><tspan x="4952" dy="14.4">Methods()</tspan></text></g>
<g id="n-extauthservice" class="nd r"><rect x="5193" y="1353" width="265" height="450.6"/><path d="M5193 1392.8H5458M5193 1418.2H5458"/><text class="c" x="5325.5" y="1369"><tspan x="5325.5" dy="0">org.xdi.oxauth.service.external.</tspan><tspan x="5325.5" dy="14.4">ExternalAuthenticationService</tspan></text><text x="5199" y="1408.8">- serialVersionUID</text><text x="5199" y="1434.2"><tspan x="5199" dy="0">+ ExternalAuthenticationService()</tspan><tspan x="5199" dy="14.4">+ reloadAuthScript()</tspan><tspan x="5199" dy="14.4">+ executeExternalGetCountAuthentication</tspan><tspan x="5199" dy="14.4">Steps()</tspan><tspan x="5199" dy="14.4">+ executeExternalAuthenticate()</tspan><tspan x="5199" dy="14.4">+ getNextStep()</tspan><tspan x="5199" dy="14.4">+ executeExternalLogout()</tspan><tspan x="5199" dy="14.4">+ getLogoutExternalUrl()</tspan><tspan x="5199" dy="14.4">+ executeExternalPrepareForStep()</tspan><tspan x="5199" dy="14.4">+ executeExternalGetExtraParameters</tspan><tspan x="5199" dy="14.4">ForStep()</tspan><tspan x="5199" dy="14.4">+ executeExternalGetPageForStep()</tspan><tspan x="5199" dy="14.4">□□ 14 □...</tspan><tspan x="5199" dy="14.4"># reloadExternal()</tspan><tspan x="5199" dy="14.4"># addExternalConfiguration()</tspan><tspan x="5199" dy="14.4">- groupCustomScriptConfigurations</tspan><tspan x="5199" dy="14.4">MapByUsageType()</tspan><tspan x="5199" dy="14.4">- determineDefaultCustomScript</tspan><tspan x="5199" dy="14.4">ConfigurationsMap()</tspan><tspan x="5199" dy="14.4">- executeExternalIsValidAuthentication</tspan><tspan x="5199" dy="14.4">Method()</tspan><tspan x="5199" dy="14.4">- executeExternalGetAlternative</tspan><tspan x="5199" dy="14.4">AuthenticationMethod()</tspan><tspan x="5199" dy="14.4">- isValidateUsageType()</tspan><tspan x="5199" dy="14.4">- getInternalCustomScriptConfiguration()</tspan><tspan x="5199" dy="14.4">- getInternalCustomScriptConfiguration()</tspan></text></g>
<g id="n-oxauth-authprotservice" class="nd k"><rect x="5854" y="1486" width="235" height="191.4"/><path d="M5854 1525.8H6089M5854 1623.2H6089"/><text class="c" x="5971.5" y="1502"><tspan x="5971.5" dy="0">org.xdi.oxauth.service.Authentication</tspan><tspan x="5971.5" dy="14.4">ProtectionService</tspan></text><text x="5860" y="1541.8"><tspan x="5860" dy="0">- DEFAULT_ATTEMPT_EXPIRATION</tspan><tspan x="5860" dy="14.4">- DEFAULT_MAXIMUM_ALLOWED</tspan><tspan x="5860" dy="14.4">_ATTEMPTS</tspan><tspan x="5860" dy="14.4">- DEFAULT_MAXIMUM_ALLOWED</tspan><tspan x="5860" dy="14.4">_ATTEMPTS_WITHOUT_DELAY</tspan><tspan x="5860" dy="14.4">- DEFAULT_DELAY_TIME</tspan></text><text x="5860" y="1639.2"><tspan x="5860" dy="0">+ isEnabled()</tspan><tspan x="5860" dy="14.4"># init()</tspan><tspan x="5860" dy="14.4"># getKeyPrefix()</tspan></text></g>
<g id="n-metricservice" class="nd k"><rect x="909" y="2021" width="187" height="162.6"/><path d="M909 2060.8H1096M909 2086.2H1096"/><text class="c" x="1002.5" y="2037"><tspan x="1002.5" dy="0">org.xdi.oxauth.service.Metric</tspan><tspan x="1002.5" dy="14.4">Service</tspan></text><text x="915" y="2076.8">- serialVersionUID</text><text x="915" y="2102.2"><tspan x="915" dy="0">+ initTimer()</tspan><tspan x="915" dy="14.4">+ baseDn()</tspan><tspan x="915" dy="14.4">+ applianceInum()</tspan><tspan x="915" dy="14.4">+ getMetricServiceInstance()</tspan><tspan x="915" dy="14.4">+ isMetricReporterEnabled()</tspan><tspan x="915" dy="14.4">+ getApplicationType()</tspan></text></g>
<g id="n-clientservice" class="nd k"><rect x="1613" y="1948" width="184" height="306.2"/><path d="M1613 1987.8H1797M1613 2012.8H1797"/><text class="c" x="1705" y="1964"><tspan x="1705" dy="0">org.xdi.oxauth.service.Client</tspan><tspan x="1705" dy="14.4">Service</tspan></text><text x="1619" y="2028.8"><tspan x="1619" dy="0">+ persist()</tspan><tspan x="1619" dy="14.4">+ merge()</tspan><tspan x="1619" dy="14.4">+ authenticate()</tspan><tspan x="1619" dy="14.4">+ getClient()</tspan><tspan x="1619" dy="14.4">+ getClient()</tspan><tspan x="1619" dy="14.4">+ getClient()</tspan><tspan x="1619" dy="14.4">+ getClientsByDns()</tspan><tspan x="1619" dy="14.4">+ getClientsByDns()</tspan><tspan x="1619" dy="14.4">+ getClientByDn()</tspan><tspan x="1619" dy="14.4">+ getCustomAttribute()</tspan><tspan x="1619" dy="14.4">□□ 10 □...</tspan><tspan x="1619" dy="14.4">- putInCache()</tspan><tspan x="1619" dy="14.4">- fromCache()</tspan><tspan x="1619" dy="14.4">- removeFromCache()</tspan><tspan x="1619" dy="14.4">- getClientIdCacheKey()</tspan><tspan x="1619" dy="14.4">- getClientDnCacheKey()</tspan></text></g>
<g id="n-userservice" class="nd k"><rect x="2913" y="1985" width="178" height="234.2"/><path d="M2913 2024.8H3091M2913 2049.8H3091"/><text class="c" x="3002" y="2001"><tspan x="3002" dy="0">org.xdi.oxauth.service.User</tspan><tspan x="3002" dy="14.4">Service</tspan></text><text x="2919" y="2065.8"><tspan x="2919" dy="0">+ getUserByDn()</tspan><tspan x="2919" dy="14.4">+ getUserByInum()</tspan><tspan x="2919" dy="14.4">+ getUser()</tspan><tspan x="2919" dy="14.4">+ getUserInum()</tspan><tspan x="2919" dy="14.4">+ getUserInum()</tspan><tspan x="2919" dy="14.4">+ getUserNameByInum()</tspan><tspan x="2919" dy="14.4">+ updateUser()</tspan><tspan x="2919" dy="14.4">+ addDefaultUser()</tspan><tspan x="2919" dy="14.4">+ addUser()</tspan><tspan x="2919" dy="14.4">+ getUserByAttribute()</tspan><tspan x="2919" dy="14.4">□□ 14 □...</tspan></text></g>
<g id="n-sessionidservice" class="nd k"><rect x="4037" y="1892" width="234" height="421.4"/><path d="M4037 1931.8H4271M4037 1956.8H4271"/><text class="c" x="4154" y="1908"><tspan x="4154" dy="0">org.xdi.oxauth.service.Session</tspan><tspan x="4154" dy="14.4">IdService</tspan></text><text x="4043" y="1972.8"><tspan x="4043" dy="0">+ getAcr()</tspan><tspan x="4043" dy="14.4">+ assertAuthenticatedSession</tspan><tspan x="4043" dy="14.4">CorrespondsToNewRequest()</tspan><tspan x="4043" dy="14.4">+ reinitLogin()</tspan><tspan x="4043" dy="14.4">+ resetToStep()</tspan><tspan x="4043" dy="14.4">+ getSessionIdFromCookie()</tspan><tspan x="4043" dy="14.4">+ getUmaSessionIdFromCookie()</tspan><tspan x="4043" dy="14.4">+ getConsentSessionIdFromCookie()</tspan><tspan x="4043" dy="14.4">+ getSessionIdFromCookie()</tspan><tspan x="4043" dy="14.4">+ getSessionIdFromCookie()</tspan><tspan x="4043" dy="14.4">+ createSessionIdCookie()</tspan><tspan x="4043" dy="14.4">□□ 30 □...</tspan><tspan x="4043" dy="14.4">- getCurrentSessionAttributes()</tspan><tspan x="4043" dy="14.4">- generateAuthenticatedSessionId()</tspan><tspan x="4043" dy="14.4">- generateSessionId()</tspan><tspan x="4043" dy="14.4">- generateJwt()</tspan><tspan x="4043" dy="14.4">- putInCache()</tspan><tspan x="4043" dy="14.4">- getFromCache()</tspan><tspan x="4043" dy="14.4">- mergeWithRetry()</tspan><tspan x="4043" dy="14.4">- isPersisted()</tspan><tspan x="4043" dy="14.4">- dn()</tspan><tspan x="4043" dy="14.4">- getBaseDn()</tspan><tspan x="4043" dy="14.4">- getPromptsFromSessionId()</tspan><tspan x="4043" dy="14.4">- auditLogging()</tspan></text></g>
<g id="n-authsvc" class="nd k"><rect x="4508" y="2381" width="233" height="363.8"/><path d="M4508 2420.8H4741M4508 2445.8H4741"/><text class="c" x="4624.5" y="2397"><tspan x="4624.5" dy="0">org.xdi.oxauth.service.Authentication</tspan><tspan x="4624.5" dy="14.4">Service</tspan></text><text x="4514" y="2461.8"><tspan x="4514" dy="0">+ authenticate()</tspan><tspan x="4514" dy="14.4">+ authenticate()</tspan><tspan x="4514" dy="14.4">+ authenticate()</tspan><tspan x="4514" dy="14.4">+ authenticate()</tspan><tspan x="4514" dy="14.4">+ configureSessionUser()</tspan><tspan x="4514" dy="14.4">+ configureEventUser()</tspan><tspan x="4514" dy="14.4">+ configureEventUser()</tspan><tspan x="4514" dy="14.4">+ quietLogin()</tspan><tspan x="4514" dy="14.4">+ getAuthenticatedUser()</tspan><tspan x="4514" dy="14.4">+ getAuthenticatedUserId()</tspan><tspan x="4514" dy="14.4">□□ 7 □...</tspan><tspan x="4514" dy="14.4">- setAuthenticatedUserSession</tspan><tspan x="4514" dy="14.4">Attribute()</tspan><tspan x="4514" dy="14.4">- localAuthenticate()</tspan><tspan x="4514" dy="14.4">- externalAuthenticate()</tspan><tspan x="4514" dy="14.4">- getUserByAttribute()</tspan><tspan x="4514" dy="14.4">- checkUserStatus()</tspan><tspan x="4514" dy="14.4">- updateLastLogonUserTime()</tspan><tspan x="4514" dy="14.4">- getHttpRequest()</tspan><tspan x="4514" dy="14.4">- configureAuthenticatedUser()</tspan></text></g>
<g id="n-list-pem" class="nd g"><rect x="5989" y="2065" width="216" height="75.4"/><path d="M5989 2090.4H6205M5989 2115.4H6205"/><text class="c" x="6097" y="2081">List&lt; PersistenceEntryManager &gt;</text></g>
<g id="n-facesservice" class="nd g"><rect x="6229" y="2065" width="101" height="75.4"/><path d="M6229 2090.4H6330M6229 2115.4H6330"/><text class="c" x="6279.5" y="2081">FacesService</text></g>
<g id="n-credentials" class="nd g"><rect x="6354" y="2065" width="86" height="75.4"/><path d="M6354 2090.4H6440M6354 2115.4H6440"/><text class="c" x="6397" y="2081">Credentials</text></g>
</svg>
